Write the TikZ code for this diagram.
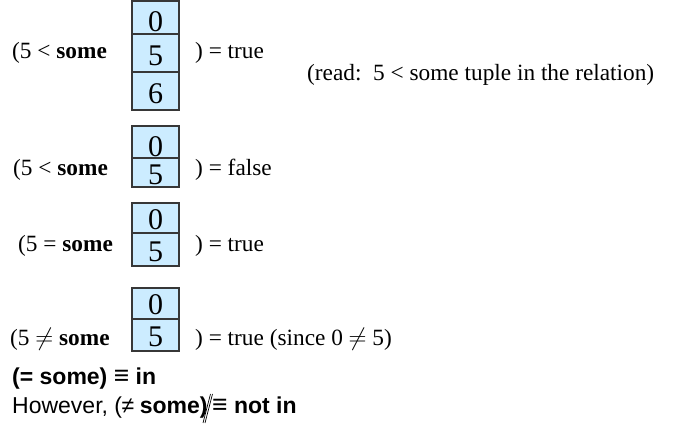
\documentclass[tikz,border=0pt]{standalone}
\usepackage{fontspec}
\usepackage{graphicx}
\setmainfont{Liberation Serif}
\setsansfont{Liberation Sans}
\definecolor{cellblue}{RGB}{204,236,255}
\definecolor{celledge}{RGB}{55,55,55}
\newcommand{\myequiv}{\raisebox{0.5pt}{\scalebox{1.15}{≡}}}
\begin{document}
\begin{tikzpicture}[x=1pt,y=-1pt,
  txt/.style={inner sep=0pt,anchor=base west,font=\fontsize{23.3}{27}\selectfont},
  stxt/.style={inner sep=0pt,anchor=base west,font=\sffamily\fontsize{23}{27}\selectfont},
  cell/.style={draw=celledge,fill=cellblue,line width=1.2pt,minimum width=47pt,inner sep=0pt},
  digit/.style={inner sep=0pt,anchor=base,font=\fontsize{30}{32}\selectfont},
  slashline/.style={line width=0.7pt}]
\useasboundingbox (0,0) rectangle (673,435);
% row 1
\node[cell,minimum height=33pt] (c1a) at (155.5,17.5) {};
\node[cell,minimum height=38pt] (c1b) at (155.5,53) {};
\node[cell,minimum height=38pt] (c1c) at (155.5,91) {};
\node[digit] (d1a) at (155.5,32) {0};
\node[digit] (d1b) at (155.5,65.5) {5};
\node[digit] (d1c) at (155.5,103.5) {6};
\node[txt] (l1) at (12,59) {(5 < \textbf{some}};
\node[txt] (r1) at (195,59) {) = true};
\node[txt] (rd) at (307,81) {(read:\ \ 5 < some tuple in the relation)};
% row 2
\node[cell,minimum height=32pt] (c2a) at (155.5,142) {};
\node[cell,minimum height=29pt] (c2b) at (155.5,172.5) {};
\node[digit] (d2a) at (155.5,157) {0};
\node[digit] (d2b) at (155.5,184.5) {5};
\node[txt] (l2) at (13,176) {(5 < \textbf{some}};
\node[txt] (r2) at (195,176) {) = false};
% row 3
\node[cell,minimum height=30pt] (c3a) at (155.5,218) {};
\node[cell,minimum height=33pt] (c3b) at (155.5,249.5) {};
\node[digit] (d3a) at (155.5,230) {0};
\node[digit] (d3b) at (155.5,262) {5};
\node[txt] (l3) at (18,252) {(5 = \textbf{some}};
\node[txt] (r3) at (195,252) {) = true};
% row 4
\node[cell,minimum height=31pt] (c4a) at (155.5,303.5) {};
\node[cell,minimum height=32pt] (c4b) at (155.5,335) {};
\node[digit] (d4a) at (155.5,315) {0};
\node[digit] (d4b) at (155.5,347) {5};
\node[txt] (l4) at (10,346) {(5 $\neq$ \textbf{some}};
\node[txt] (r4) at (195,346) {) = true (since 0 $\neq$ 5)};
% bottom
\node[stxt] (s1) at (12,385) {\textbf{(= some) \myequiv{} in}};
\node[stxt] (s2) at (12,414) {However, (\kern-0.5pt≠\kern-0.8pt\ \textbf{some)}};
\node[stxt] (s3) at (212,414) {\textbf{\myequiv{} not in}};
\coordinate (sa1) at (210.5,394);
\coordinate (sb1) at (203,423);
\coordinate (sa2) at (212.5,394);
\coordinate (sb2) at (205,423);
\draw[slashline] (sa1) -- (sb1);
\draw[slashline] (sa2) -- (sb2);
\end{tikzpicture}
\end{document}
